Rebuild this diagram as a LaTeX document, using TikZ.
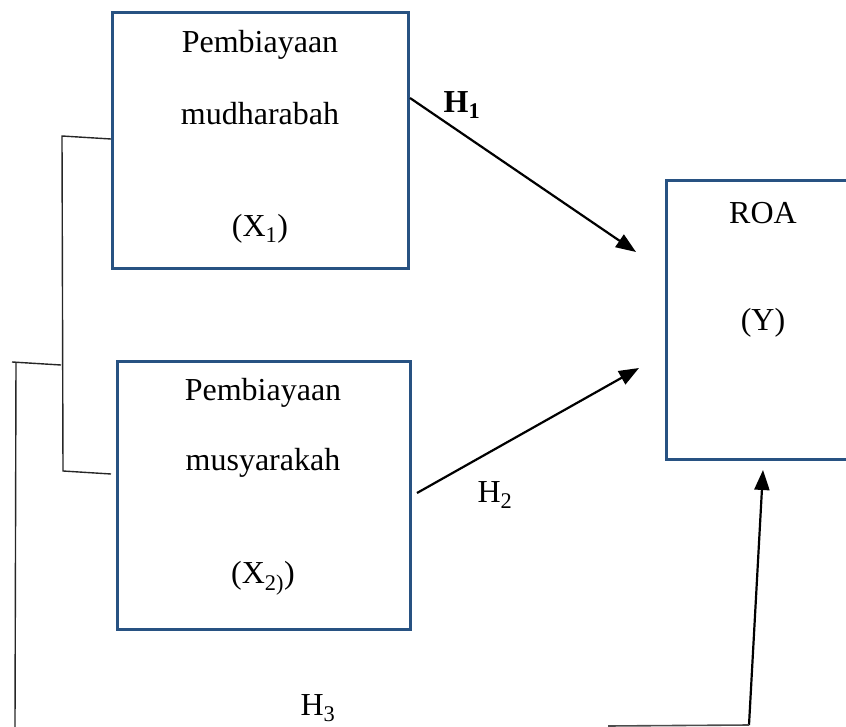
\documentclass[tikz,border=0pt]{standalone}
\usepackage{fontspec}
\setmainfont{Liberation Serif}
\usetikzlibrary{arrows.meta}
\definecolor{boxblue}{RGB}{40,82,130}
\tikzset{
  varbox/.style={draw=boxblue, line width=3pt, fill=white, inner sep=0pt},
  txt/.style={font=\fontsize{32}{38}\selectfont, inner sep=0pt, anchor=center},
  arr/.style={line width=2.2pt, -{Triangle[length=20pt,width=15pt]}},
  brk/.style={line width=1.4pt, draw=black!85},
}
\begin{document}
\begin{tikzpicture}[x=1pt,y=-1pt]
\useasboundingbox (0,0) rectangle (846,727);
\clip (0,0) rectangle (846,727);
% boxes
\node[varbox, minimum width=296pt, minimum height=256pt] (b1) at (260,141) {};
\node[varbox, minimum width=293pt, minimum height=268pt] (b2) at (263.5,495) {};
\node[varbox, minimum width=260pt, minimum height=278pt] (roa) at (796,320) {};
% texts
\node[txt] (t1a) at (260,45) {Pembiayaan};
\node[txt] (t1b) at (260,114) {mudharabah};
\node[txt] (t1c) at (260,229) {(X\textsubscript{1})};
\node[txt] (t2a) at (263,393) {Pembiayaan};
\node[txt] (t2b) at (263,463) {musyarakah};
\node[txt] (t2c) at (263,578) {(X\textsubscript{2)})};
\node[txt] (t3a) at (763,213) {ROA};
\node[txt] (t3b) at (763,323) {(Y)};
% labels
\node[txt, font=\fontsize{32}{38}\selectfont\bfseries] (h1) at (462,105) {H\textsubscript{1}};
\node[txt] (h2) at (495,495) {H\textsubscript{2}};
\node[txt] (h3) at (318,708) {H\textsubscript{3}};
% arrow coordinates
\coordinate (a1s) at (410,98);
\coordinate (a1e) at (636,252);
\coordinate (a2s) at (417,493);
\coordinate (a2e) at (639,368);
\coordinate (a3s) at (749,725);
\coordinate (a3e) at (763,470);
\coordinate (a3l) at (608,726);
\draw[arr] (a1s) -- (a1e);
\draw[arr] (a2s) -- (a2e);
\draw[arr] (a3s) -- (a3e);
\draw[line width=1.6pt, draw=black!70] (a3l) -- (a3s);
% brackets
\coordinate (k1) at (62,136);
\coordinate (k1e) at (111,139);
\coordinate (k2) at (63,471);
\coordinate (k2e) at (111,474);
\coordinate (km) at (61,365);
\coordinate (kms) at (12,362);
\coordinate (kv) at (16,362);
\coordinate (kvb) at (15,727);
\draw[brk] (k1e) -- (k1) -- (k2) -- (k2e);
\draw[brk] (kms) -- (km);
\draw[brk] (kv) -- (kvb);
\end{tikzpicture}
\end{document}
